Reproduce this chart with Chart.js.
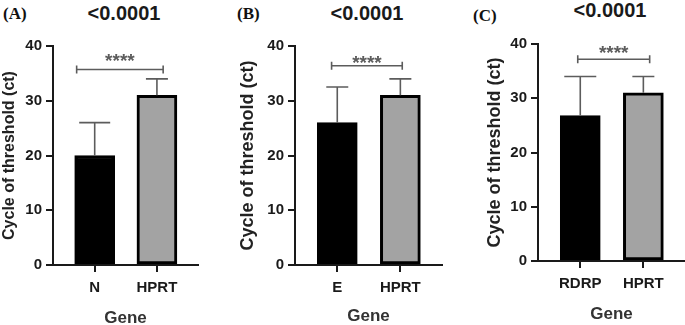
<!DOCTYPE html>
<html><head><meta charset="utf-8">
<script src="https://cdn.jsdelivr.net/npm/chart.js@4.4.1/dist/chart.umd.min.js"></script>
<style>
html,body{margin:0;padding:0;background:#fff;overflow:hidden;width:685px;height:325px;position:relative;}
.cv{position:absolute;top:0;}
.t{position:absolute;font-family:"Liberation Sans",Arial,sans-serif;font-weight:bold;font-size:20px;color:#1a1a1a;transform:translate(-50%,-50%);white-space:nowrap;line-height:1;}
.p{position:absolute;font-family:"Liberation Serif","Times New Roman",serif;font-weight:bold;font-size:17px;color:#111;transform:translateY(-50%);line-height:1;white-space:nowrap;}
</style></head><body>
<div class="p" style="left:3px;top:13px">(A)</div>
<div class="p" style="left:237px;top:13px">(B)</div>
<div class="p" style="left:473px;top:15px">(C)</div>
<div class="t" id="tA" style="left:124px;top:13px"></div>
<div class="t" id="tB" style="left:367px;top:13px"></div>
<div class="t" id="tC" style="left:610px;top:10px"></div>
<canvas id="cA" class="cv" width="228" height="330" style="left:0px"></canvas>
<canvas id="cB" class="cv" width="228" height="330" style="left:228px"></canvas>
<canvas id="cC" class="cv" width="229" height="330" style="left:456px"></canvas>
<script>
// ---- data ----
const genesA = ['N', 'HPRT'];
const ctMeanA = [20, 31];
const ctUpperA = [26, 34];
const genesB = ['E', 'HPRT'];
const ctMeanB = [26, 31];
const ctUpperB = [32.5, 34];
const genesC = ['RDRP', 'HPRT'];
const ctMeanC = [26.8, 31];
const ctUpperC = [34, 34];
const yTicks = [0, 10, 20, 30, 40];
const pValueText = '<0.0001';
const sigLabel = '****';
const xTitle = 'Gene';
const yTitle = 'Cycle of threshold (ct)';

document.getElementById('tA').textContent = pValueText;
document.getElementById('tB').textContent = pValueText;
document.getElementById('tC').textContent = pValueText;

const FONT = '"Liberation Sans", Arial, sans-serif';
const AX = '#1a1a1a';

function makePanel(p) {
  const canvas = document.getElementById(p.id);
  const H = canvas.height;
  const errPlugin = {
    id: 'err' + p.id,
    afterDatasetsDraw(chart) {
      const ctx = chart.ctx, ys = chart.scales.y, xs = chart.scales.x;
      const meta = chart.getDatasetMeta(0);
      ctx.save();
      ctx.strokeStyle = '#5c5c5c';
      ctx.lineWidth = 1.6;
      p.values.forEach((v, i) => {
        const x = meta.data[i].x;
        const yb = ys.getPixelForValue(v);
        const yt = ys.getPixelForValue(p.upper[i]);
        const hw = p.caps[i] / 2;
        ctx.beginPath();
        ctx.moveTo(x, yb); ctx.lineTo(x, yt);
        ctx.moveTo(x - hw, yt); ctx.lineTo(x + hw, yt);
        ctx.stroke();
      });
      const by = ys.getPixelForValue(p.bracket);
      const bx0 = xs.getPixelForValue(p.bFrom), bx1 = xs.getPixelForValue(p.bTo);
      ctx.beginPath();
      ctx.moveTo(bx0, by); ctx.lineTo(bx1, by);
      ctx.moveTo(bx0, by - 4); ctx.lineTo(bx0, by + 4);
      ctx.moveTo(bx1, by - 4); ctx.lineTo(bx1, by + 4);
      ctx.stroke();
      ctx.fillStyle = '#5c5c5c';
      ctx.font = 'bold 19px ' + FONT;
      ctx.textAlign = 'center';
      ctx.textBaseline = 'middle';
      ctx.fillText(sigLabel, (bx0 + bx1) / 2, by - p.starGap + 5);
      ctx.restore();
    }
  };
  const gridOpt = { display: true, drawOnChartArea: false, drawTicks: true, tickLength: 7, color: AX, lineWidth: 2, offset: false };
  const borderOpt = { display: true, color: AX, width: 2 };
  return new Chart(canvas, {
    type: 'bar',
    data: {
      datasets: [{
        data: p.values.map((v, i) => ({ x: i, y: v })),
        backgroundColor: ['#000000', '#a3a3a3'],
        borderColor: '#000000',
        borderWidth: 3,
        borderSkipped: false,
        barThickness: 40
      }]
    },
    options: {
      responsive: false, animation: false, devicePixelRatio: 1,
      layout: { padding: { left: p.padLeft, right: p.padRight, top: p.top, bottom: 0 } },
      plugins: { legend: { display: false }, tooltip: { enabled: false } },
      scales: {
        x: {
          type: 'linear', min: -0.67, max: 1.66, offset: false,
          afterBuildTicks: s => { s.ticks = p.labels.map((l, i) => ({ value: i })); },
          afterFit: s => { s.height = H - p.bottom; },
          ticks: { callback: (v, i) => p.labels[i], font: { family: FONT, weight: 'bold', size: 15 }, color: AX, padding: 7, maxRotation: 0, autoSkip: false },
          grid: gridOpt, border: borderOpt,
          title: { display: true, text: xTitle, font: { family: FONT, weight: 'bold', size: 17 }, color: '#333', padding: { top: 0, bottom: p.xtPad } }
        },
        y: {
          min: 0, max: 40,
          afterBuildTicks: s => { s.ticks = yTicks.map(v => ({ value: v })); },
          afterFit: s => { s.width = p.axisX - p.padLeft; },
          ticks: { font: { family: FONT, weight: 'bold', size: 15 }, color: AX, padding: 4 },
          grid: gridOpt, border: borderOpt,
          title: { display: true, text: yTitle, font: { family: FONT, weight: 'bold', size: p.ytSize }, color: '#222', padding: 0 }
        }
      }
    },
    plugins: [errPlugin]
  });
}

makePanel({ id: 'cA', labels: genesA, values: ctMeanA, upper: ctUpperA, caps: [31, 22],
  padLeft: 0, padRight: 30, top: 46, bottom: 265, axisX: 53, ytSize: 16, xtPad: 1.8,
  bracket: 35.7, bFrom: -0.29, bTo: 1.1, starGap: 12.7 });
makePanel({ id: 'cB', labels: genesB, values: ctMeanB, upper: ctUpperB, caps: [22, 22],
  padLeft: 9, padRight: 14, top: 46, bottom: 265, axisX: 67, ytSize: 18, xtPad: 3.8,
  bracket: 36.4, bFrom: -0.09, bTo: 1.03, starGap: 7 });
makePanel({ id: 'cC', labels: genesC, values: ctMeanC, upper: ctUpperC, caps: [32, 22],
  padLeft: 28, padRight: 0, top: 44, bottom: 261, axisX: 82, ytSize: 18, xtPad: 5.8,
  bracket: 37.2, bFrom: -0.04, bTo: 1.1, starGap: 10 });
</script>
</body></html>
